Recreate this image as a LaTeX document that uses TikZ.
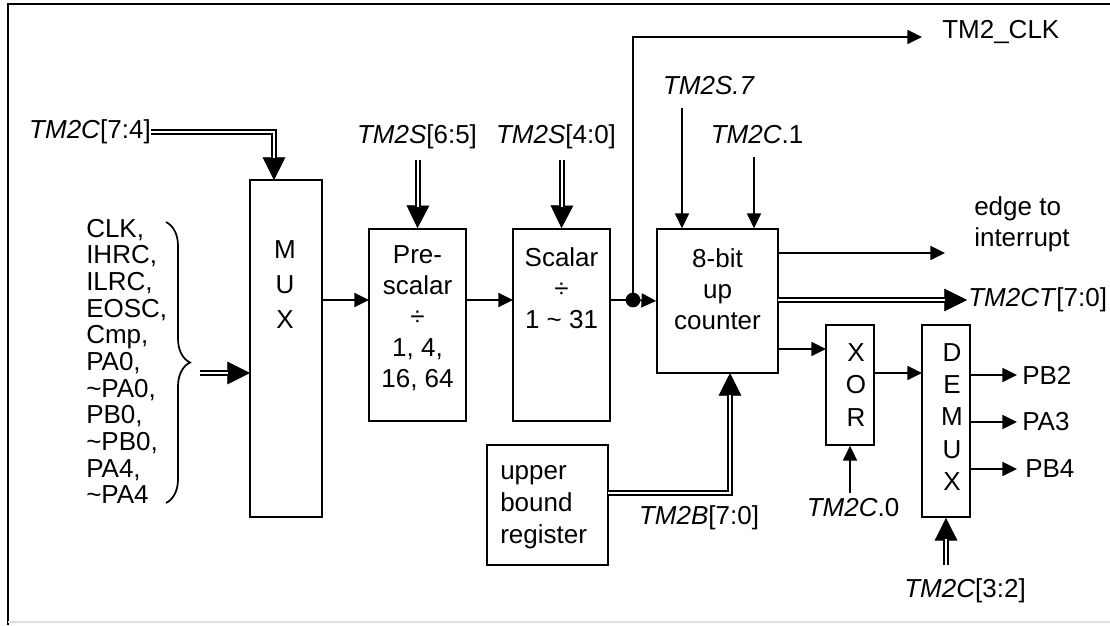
\documentclass[tikz,border=0pt]{standalone}
\usepackage{fontspec}
\setmainfont{Liberation Sans}
\usetikzlibrary{arrows.meta,calc,decorations.pathreplacing}
\begin{document}
\begin{tikzpicture}[x=0.75pt,y=-0.75pt,
  box/.style={draw, line width=1.3pt, inner sep=0pt},
  lbl/.style={inner sep=0pt, font=\fontsize{19.5}{20}\selectfont},
  blk/.style={inner sep=0pt, align=center, font=\fontsize{19.5}{23.25}\selectfont},
  arr/.style={-{Triangle[length=11pt,width=10.5pt]}, line width=1.3pt},
  wire/.style={line width=1.3pt},
  bus/.style={double, double distance=2.2pt, line width=1pt},
  bighead/.style={-{Triangle[length=17pt,width=17pt]}, line width=0.5pt},
]
\useasboundingbox (0,0) rectangle (1110,625);
\fill[white] (0,0) rectangle (1110,625);
% frame
\draw[line width=1.3pt] (8,625) -- (8,4) -- (1110,4);
\draw[gray!25, line width=1pt] (8,622) -- (1110,622);

% blocks
\node[box, minimum width=54pt, minimum height=252.75pt] (mux) at (286,348.5) {};
\node[blk, font=\fontsize{19.5}{26.25}\selectfont] (muxt) at (285,285) {M\\U\\X};
\node[box, minimum width=72.75pt, minimum height=144pt] (pre) at (417.5,325) {};
\node[blk] (pret) at (417.5,318) {Pre-\\scalar\\÷\\1, 4,\\16, 64};
\node[box, minimum width=72.75pt, minimum height=144pt] (scal) at (561.5,325) {};
\node[blk] (scalt) at (561.5,288) {Scalar\\÷\\1 \textasciitilde{} 31};
\node[box, minimum width=90.75pt, minimum height=108pt] (cnt) at (717.5,301) {};
\node[blk] (cntt) at (717.5,289) {8-bit\\up\\counter};
\node[box, minimum width=36pt, minimum height=90pt] (xor) at (850,385) {};
\node[blk, font=\fontsize{19.5}{24.4}\selectfont] (xort) at (856,385) {X\\O\\R};
\node[box, minimum width=36pt, minimum height=144pt] (dmx) at (946,421) {};
\node[blk, font=\fontsize{19.5}{24.2}\selectfont] (dmxt) at (952,417) {D\\E\\M\\U\\X};
\node[box, minimum width=90.75pt, minimum height=90pt] (ubr) at (547.5,505) {};
\node[blk, align=left, anchor=west, font=\fontsize{19.5}{24}\selectfont] (ubrt) at (500,507) {upper\\bound\\register};

% source list and brace
\node[lbl, align=left, anchor=west] (srcs) at (86,361.5) {CLK,\\IHRC,\\ILRC,\\EOSC,\\Cmp,\\PA0,\\\textasciitilde PA0,\\PB0,\\\textasciitilde PB0,\\PA4,\\\textasciitilde PA4};
\coordinate (brt) at (166,222);
\coordinate (brb) at (166,503);
\draw[line width=1.3pt, decorate, decoration={brace, amplitude=18pt, aspect=0.5}] (brt) -- (brb);

% labels
\node[lbl] (t74) at (90,132) {\textit{TM2C}[7:4]};
\node[lbl] (t65) at (417,137) {\textit{TM2S}[6:5]};
\node[lbl] (t40) at (556,137) {\textit{TM2S}[4:0]};
\node[lbl] (s7) at (709,86) {\textit{TM2S.7}};
\node[lbl] (c1) at (757,135) {\textit{TM2C}.1};
\node[lbl, anchor=west] (clk) at (942,32) {TM2\_CLK};
\node[lbl, align=left, anchor=west, font=\fontsize{19.5}{23}\selectfont] (edge) at (974,224) {edge to\\interrupt};
\node[lbl, anchor=west] (ct) at (968,300) {\textit{TM2CT}[7:0]};
\node[lbl] (tb) at (699,518) {\textit{TM2B}[7:0]};
\node[lbl] (c0) at (853,508) {\textit{TM2C}.0};
\node[lbl] (c32) at (965,591) {\textit{TM2C}[3:2]};
\node[lbl, anchor=west] (pb2) at (1022,375) {PB2};
\node[lbl, anchor=west] (pa3) at (1022,422) {PA3};
\node[lbl, anchor=west] (pb4) at (1025,469) {PB4};

% coordinates
\coordinate (muxo) at (322,300);
\coordinate (prei) at (369,300);
\coordinate (preo) at (466,300);
\coordinate (scali) at (513,300);
\coordinate (scalo) at (610,300);
\coordinate (dot) at (633,300);
\coordinate (clkend) at (922,37);
\coordinate (s7a) at (682,108);
\coordinate (c1a) at (754,157);
\coordinate (edgeo) at (778,253);
\coordinate (edgee) at (945,253);
\coordinate (cnto) at (778,349);
\coordinate (xori) at (826,349);
\coordinate (xoro) at (874,373);
\coordinate (dmxi) at (922,373);
\coordinate (o1a) at (970,375);
\coordinate (o1b) at (1017,375);
\coordinate (o2a) at (970,422);
\coordinate (o2b) at (1017,422);
\coordinate (o3a) at (970,469);
\coordinate (o3b) at (1017,469);
\coordinate (c0a) at (850,493);

% single arrows
\draw[arr] (muxo) -- (prei);
\draw[arr] (preo) -- (scali);
\draw[wire] (scalo) -- (dot);
\draw[arr] (dot) -- (cnt.west);
\draw[arr] (dot) |- (clkend);
\fill (dot) circle (5.5pt);
\draw[arr] (s7a) -- (s7a |- cnt.north);
\draw[arr] (c1a) -- (c1a |- cnt.north);
\draw[arr] (edgeo) -- (edgee);
\draw[arr] (cnto) -- (xori);
\draw[arr] (xoro) -- (dmxi);
\draw[arr] (o1a) -- (o1b);
\draw[arr] (o2a) -- (o2b);
\draw[arr] (o3a) -- (o3b);
\draw[arr] (c0a) -- (xor.south);

% bus arrows: heads
\coordinate (h74) at (274,180);
\draw[bighead] (274,150) -- (h74);
\draw[bighead] (418,200) -- (pre.north);
\draw[bighead] (562,200) -- (scal.north);
\coordinate (hin) at (250,373);
\draw[bighead] (220,373) -- (hin);
\coordinate (hct) at (967,300);
\draw[bighead] (940,300) -- (hct);
\coordinate (htb) at (730,373);
\draw[bighead] (730,403) -- (htb);
\draw[bighead] (946,545) -- (dmx.south);

% bus shafts
\draw[bus] (t74.east) -| (274,158);
\draw[bus] (418,160) -- (418,207);
\draw[bus] (562,160) -- (562,207);
\draw[bus] (200,373) -- (228,373);
\draw[bus] (778,300) -- (945,300);
\coordinate (ubo) at (608,493);
\draw[bus] (ubo) -| (730,395);
\draw[bus] (946,565) -- (946,539);
\end{tikzpicture}
\end{document}
